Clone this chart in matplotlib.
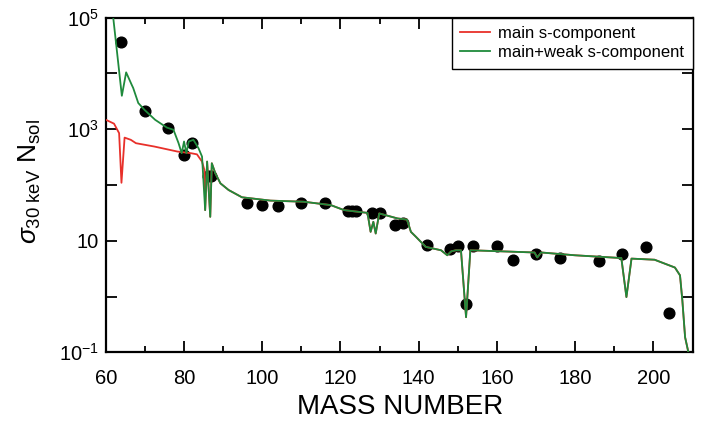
import numpy as np
import matplotlib
matplotlib.use("Agg")
import matplotlib.pyplot as plt
from matplotlib.ticker import FixedLocator, MultipleLocator, NullLocator

plt.rcParams['font.family'] = ['Liberation Sans', 'DejaVu Sans']
plt.rcParams['mathtext.fontset'] = 'custom'
plt.rcParams['mathtext.rm'] = 'Liberation Sans'
plt.rcParams['mathtext.it'] = 'Liberation Sans:italic'

# s-only nuclei: mass number and log10(sigma*N)
pts_A = [64, 70, 76, 80, 82, 86, 87, 96, 100, 104, 110, 116, 122, 123, 124,
         128, 130, 134, 136, 142, 148, 150, 152, 154, 160, 164, 170, 176,
         186, 192, 198, 204]
pts_log = [4.56, 3.33, 3.02, 2.54, 2.76, 2.16, 2.16, 1.67, 1.65, 1.63, 1.67,
           1.68, 1.54, 1.54, 1.54, 1.50, 1.49, 1.28, 1.31, 0.92, 0.85, 0.91,
           -0.13, 0.90, 0.91, 0.65, 0.76, 0.69, 0.64, 0.77, 0.885, -0.29]

# main+weak s-component curve
green_A = [61.0, 61.9, 64.1, 65.2, 66.6, 67.0, 68.3, 70.0, 72.6, 75.6, 77.3,
           78.6, 79.4, 80.0, 80.6, 81.2, 82.4, 83.7, 84.6, 85.4, 85.9, 86.7,
           87.1, 88.0, 89.3, 91.4, 94.8, 102.1, 110.6, 117.5, 120.9, 126.9,
           127.7, 128.4, 129.0, 129.9, 134.6, 137.0, 138.0, 139.3, 141.8,
           145.7, 147.3, 148.3, 149.5, 150.8, 152.1, 153.2, 169.6, 170.3,
           171.3, 179.9, 191.8, 193.1, 194.4, 200.3, 202.9, 205.5, 206.8,
           207.4, 208.1, 209.1]
green_log = [5.35, 5.0, 3.6, 4.02, 3.8, 3.74, 3.47, 3.34, 3.17, 3.03, 2.99,
             2.75, 2.57, 2.78, 2.57, 2.78, 2.81, 2.66, 2.51, 1.55, 2.42, 1.43,
             2.39, 2.21, 2.03, 1.91, 1.78, 1.72, 1.70, 1.64, 1.55, 1.50,
             1.16, 1.34, 1.13, 1.49, 1.40, 1.38, 1.16, 1.07, 0.89,
             0.83, 0.74, 0.81, 0.83, 0.83, -0.37, 0.83, 0.79, 0.70,
             0.79, 0.74, 0.69, -0.01, 0.68, 0.66, 0.59, 0.52, 0.38,
             -0.07, -0.73, -1.05]

# main s-component curve below A~85 (identical to the green one above)
red_A_low = [60.0, 62.1, 63.4, 64.0, 64.8, 66.4, 67.7, 72.4, 78.3, 81.8, 83.3,
             84.6, 85.2]
red_log_low = [3.17, 3.10, 2.93, 2.04, 2.85, 2.81, 2.75, 2.69, 2.60, 2.57,
               2.55, 2.42, 2.27]

green_A = np.array(green_A)
green_log = np.array(green_log)
keep = green_A >= 85.4
red_A = np.concatenate([red_A_low, green_A[keep]])
red_log = np.concatenate([red_log_low, green_log[keep]])

fig = plt.figure(figsize=(7.04, 4.29), dpi=100)
ax = fig.add_axes([0.1503, 0.1788, 0.8334, 0.7799])

ax.plot(pts_A, 10.0 ** np.array(pts_log), 'o', color='black', ms=7.7,
        zorder=2)
ax.plot(red_A, 10.0 ** red_log, color='#e8302a', lw=1.3,
        label='main s-component', zorder=3)
ax.plot(green_A, 10.0 ** green_log, color='#1f8a3c', lw=1.3,
        label='main+weak s-component', zorder=4)

ax.set_yscale('log')
ax.set_xlim(60, 210)
ax.set_ylim(1e-1, 1e5)

ax.xaxis.set_major_locator(MultipleLocator(20))
ax.xaxis.set_minor_locator(MultipleLocator(10))
ax.yaxis.set_major_locator(FixedLocator([1e-1, 1, 10, 100, 1e3, 1e4, 1e5]))
ax.yaxis.set_minor_locator(NullLocator())
ax.set_yticklabels([r'$10^{-1}$', '', '10', '', r'$10^3$', '', r'$10^5$'])

ax.tick_params(which='both', direction='in', top=True, right=True,
               width=1.3, labelsize=14.5)
ax.tick_params(which='major', length=8)
ax.tick_params(axis='x', which='major', pad=12)
ax.tick_params(axis='y', which='major', pad=5)
ax.tick_params(which='minor', length=4)
for s in ax.spines.values():
    s.set_linewidth(1.6)

ax.set_xlabel('MASS NUMBER', fontsize=20)
ax.xaxis.set_label_coords(0.501, -0.125)
ax.set_ylabel(r'$\sigma_{\rm 30\ keV}\ {\rm N}_{\rm sol}$', fontsize=19)
ax.yaxis.set_label_coords(-0.107, 0.51)

leg = ax.legend(loc='upper right', borderaxespad=0, fontsize=12,
                fancybox=False, framealpha=1, edgecolor='black',
                handlelength=1.8, handletextpad=0.5, labelspacing=0.25,
                borderpad=0.5)
leg.get_frame().set_linewidth(1.0)

fig.savefig('out.png', dpi=100)
